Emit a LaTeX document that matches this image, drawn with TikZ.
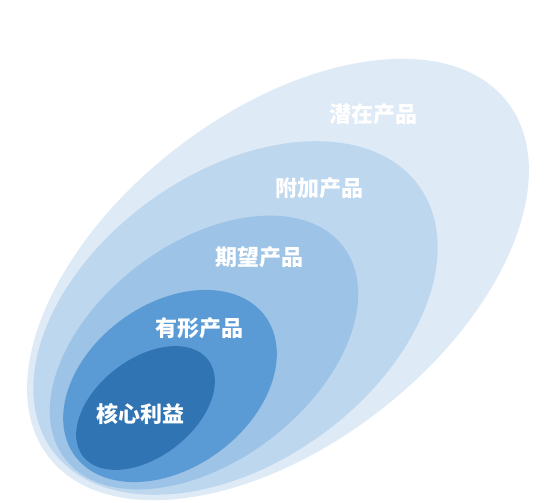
\documentclass[tikz,border=0pt]{standalone}
\usepackage{fontspec}
\newfontfamily\cjk{Noto Sans CJK SC}[BoldFont={Noto Sans CJK SC Black}]
\usepackage{xcolor}
\usetikzlibrary{positioning,calc}

\definecolor{layerA}{HTML}{DEEAF6}
\definecolor{layerB}{HTML}{BDD7EE}
\definecolor{layerC}{HTML}{9DC3E6}
\definecolor{layerD}{HTML}{5B9BD5}
\definecolor{layerE}{HTML}{3074B3}

\begin{document}
\begin{tikzpicture}[
    x=1pt, y=1pt,
    % one nested ring of the product
    layer/.style={draw=none},
    % white ring label
    lbl/.style={
        text=white, font=\cjk\bfseries\fontsize{22}{26}\selectfont,
        inner sep=0pt
    }
]
\useasboundingbox (0,0) rectangle (560,503);

% === Layers (outer to inner) ===
\fill[layer, layerA] (278,223.5) ellipse [x radius=290, y radius=166, rotate=37.7];
\fill[layer, layerB] (235.5,185) ellipse [x radius=226, y radius=145, rotate=35.7];
\fill[layer, layerC] (204,150.5) ellipse [x radius=175, y radius=109, rotate=37.2];
\fill[layer, layerD] (170,117) ellipse [x radius=118, y radius=82, rotate=36.2];
\fill[layer, layerE] (145.5,95) ellipse [x radius=79, y radius=49, rotate=37.6];

% === Labels ===
\node[lbl] (potential) at (373,389)   {潜在产品};
\node[lbl] (augmented) at (319,315)   {附加产品};
\node[lbl] (expected)  at (259.5,246) {期望产品};
\node[lbl] (tangible)  at (199,175)   {有形产品};
\node[lbl] (core)      at (140,88.5)  {核心利益};

\end{tikzpicture}
\end{document}
